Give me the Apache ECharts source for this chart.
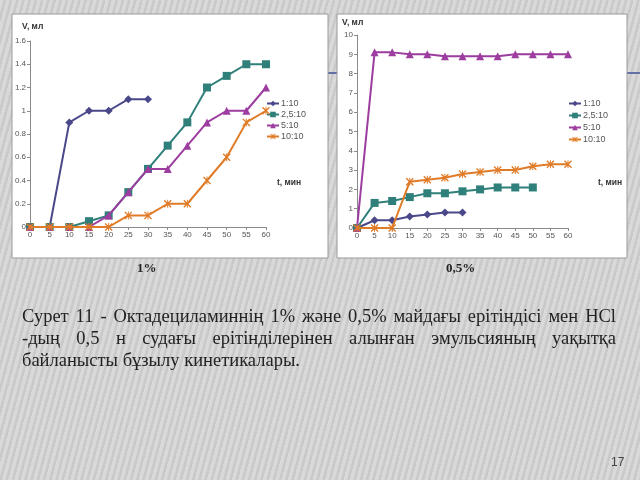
<!DOCTYPE html>
<html><head><meta charset="utf-8">
<script src="https://cdn.jsdelivr.net/npm/echarts@6/dist/echarts.min.js"></script>
<style>
html,body{margin:0;padding:0;width:640px;height:480px;overflow:hidden;}
body{background:#d2d2d2 repeating-linear-gradient(105deg,#d9d9d9 0px,#d9d9d9 3px,#c9c9c9 4px,#c9c9c9 6px);position:relative;}
#c{position:absolute;left:0;top:0;width:640px;height:480px;}
.cap{position:absolute;font-family:"Liberation Serif","DejaVu Serif",serif;color:#222;}
.pct{font-weight:bold;font-size:13px;top:260px;}
#txt{left:22px;top:305px;width:594px;font-size:18.5px;line-height:22px;}
#txt div.j{text-align:justify;text-align-last:justify;white-space:nowrap;}
#pg{left:611px;top:455px;font-size:12px;font-family:"Liberation Sans",sans-serif;color:#444;}
</style></head>
<body>
<div id="c"></div>
<div class="cap pct" style="left:137px">1%</div>
<div class="cap pct" style="left:446px">0,5%</div>
<div class="cap" id="txt">
<div class="j">Сурет 11 - Октадециламиннің 1% және 0,5% майдағы ерітіндісі мен HCl</div>
<div class="j">-дың 0,5 н судағы ерітінділерінен алынған эмульсияның уақытқа</div>
<div>байланысты бұзылу кинетикалары.</div>
</div>
<div class="cap" id="pg">17</div>
<script>
var names = ['1:10','2,5:10','5:10','10:10'];
var times = [0,5,10,15,20,25,30,35,40,45,50,55,60];
// Left chart (1%)
var L_1_10  = [0,0,0.9,1.0,1.0,1.1,1.1];
var L_25_10 = [0,0,0,0.05,0.1,0.3,0.5,0.7,0.9,1.2,1.3,1.4,1.4];
var L_5_10  = [0,0,0,0,0.1,0.3,0.5,0.5,0.7,0.9,1.0,1.0,1.2];
var L_10_10 = [0,0,0,0,0,0.1,0.1,0.2,0.2,0.4,0.6,0.9,1.0];
// Right chart (0,5%)
var R_1_10  = [0,0.4,0.4,0.6,0.7,0.8,0.8];
var R_25_10 = [0,1.3,1.4,1.6,1.8,1.8,1.9,2.0,2.1,2.1,2.1];
var R_5_10  = [0,9.1,9.1,9.0,9.0,8.9,8.9,8.9,8.9,9.0,9.0,9.0,9.0];
var R_10_10 = [0,0,0,2.4,2.5,2.6,2.8,2.9,3.0,3.0,3.2,3.3,3.3];

var colors = ['#4a4889','#2f7f7a','#9c3d9f','#e07b28'];
var crossPath = 'path://M0,1.2L1.2,0L10,8.8L8.8,10Z M8.8,0L10,1.2L1.2,10L0,8.8Z M4.4,0L5.6,0L5.6,10L4.4,10Z';
var symbols = ['diamond','rect','triangle',crossPath];
var sizes = [8,8,8,8];

function pairs(arr){ return arr.map(function(v,i){ return [times[i], v]; }); }

var leftData = [L_1_10, L_25_10, L_5_10, L_10_10];
var rightData = [R_1_10, R_25_10, R_5_10, R_10_10];

var series = [];
[leftData, rightData].forEach(function(set, g){
  set.forEach(function(arr, k){
    series.push({
      name: names[k], type:'line', xAxisIndex:g, yAxisIndex:g,
      data: pairs(arr), symbol: symbols[k], symbolSize: sizes[k],
      lineStyle:{color:colors[k], width:2}, itemStyle:{color:colors[k]},
      color: colors[k], animation:false, z: 2 + k
    });
  });
});

var axLabel = {color:'#555', fontSize:8, fontFamily:'Liberation Sans, Arial, sans-serif', margin:4};
var axLine = {show:true, lineStyle:{color:'#8a8a8a', width:1}};
var axTick = {show:true, length:3, lineStyle:{color:'#8a8a8a'}};

function xa(g){ return {type:'value', gridIndex:g, min:0, max:60, interval:5, axisLine:axLine, axisTick:axTick, axisLabel:axLabel, splitLine:{show:false}}; }

var option = {
  backgroundColor:'transparent',
  animation:false,
  graphic:[
    {type:'line', shape:{x1:326,y1:73,x2:640,y2:73}, style:{stroke:'#6371a6', lineWidth:2}, z:-30},
    {type:'rect', shape:{x:12,y:14,width:316,height:244}, style:{fill:'#ffffff', stroke:'#9a9a9a', lineWidth:1}, z:-20},
    {type:'rect', shape:{x:337,y:14,width:290,height:244}, style:{fill:'#ffffff', stroke:'#9a9a9a', lineWidth:1}, z:-20},
    {type:'text', left:22, top:22, style:{text:'V, мл', font:'bold 8.5px Liberation Sans, Arial, sans-serif', fill:'#333'}},
    {type:'text', left:342, top:18, style:{text:'V, мл', font:'bold 8.5px Liberation Sans, Arial, sans-serif', fill:'#333'}},
    {type:'text', left:277, top:178, style:{text:'t, мин', font:'bold 8.5px Liberation Sans, Arial, sans-serif', fill:'#333'}},
    {type:'text', left:598, top:178, style:{text:'t, мин', font:'bold 8.5px Liberation Sans, Arial, sans-serif', fill:'#333'}}
  ],
  grid:[
    {left:30, top:41, width:236, height:186},
    {left:357, top:35, width:211, height:193}
  ],
  xAxis:[xa(0), xa(1)],
  yAxis:[
    {type:'value', gridIndex:0, min:0, max:1.6, interval:0.2, axisLine:axLine, axisTick:axTick, splitLine:{show:false},
     axisLabel:Object.assign({}, axLabel, {formatter:function(v){ return String(+v.toFixed(1)); }})},
    {type:'value', gridIndex:1, min:0, max:10, interval:1, axisLine:axLine, axisTick:axTick, splitLine:{show:false}, axisLabel:axLabel}
  ],
  legend:[
    {orient:'vertical', left:261, top:94, itemWidth:12, itemHeight:7, itemGap:2, data:names,
     textStyle:{color:'#555', fontSize:9, fontFamily:'Liberation Sans, Arial, sans-serif', padding:[0,0,0,-3]}, selectedMode:false},
    {orient:'vertical', left:563, top:94, itemWidth:12, itemHeight:7, itemGap:3, data:names,
     textStyle:{color:'#555', fontSize:9, fontFamily:'Liberation Sans, Arial, sans-serif', padding:[0,0,0,-3]}, selectedMode:false}
  ],
  series: series
};
var chart = echarts.init(document.getElementById('c'), null, {renderer:'canvas'});
chart.setOption(option);
</script>
</body></html>
